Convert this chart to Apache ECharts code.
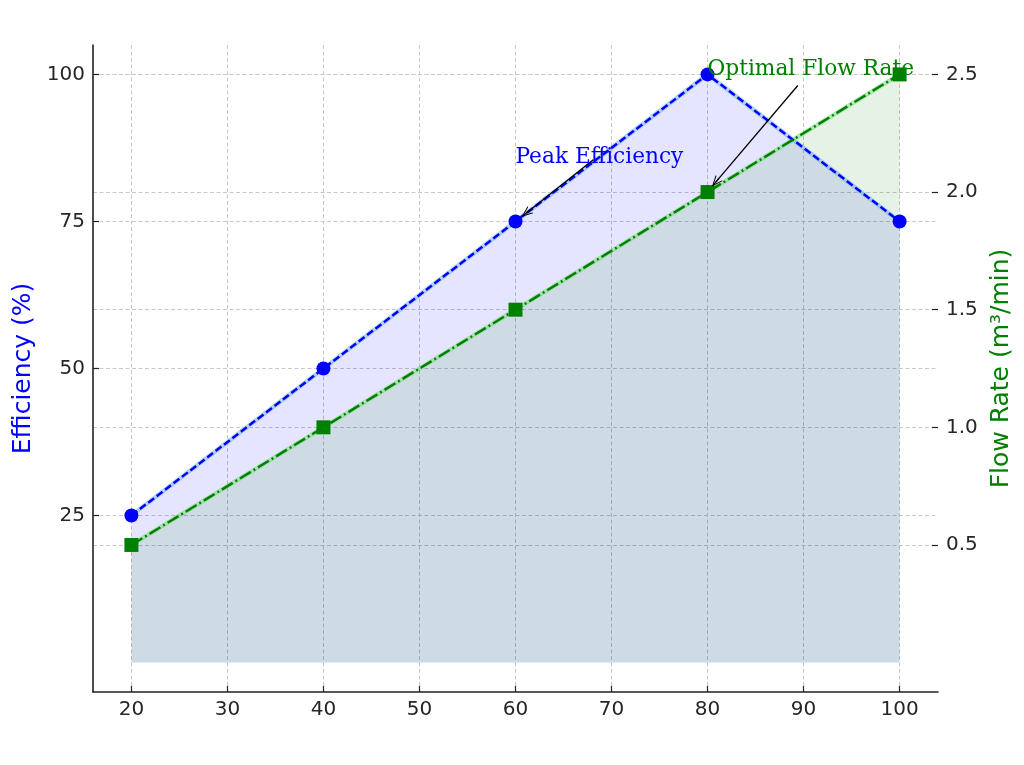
<!DOCTYPE html>
<html>
<head>
<meta charset="utf-8">
<title>Efficiency and Flow Rate</title>
<script src="https://cdn.jsdelivr.net/npm/echarts@6/dist/echarts.min.js"></script>
<style>
  html, body { margin: 0; padding: 0; background: #fff; }
  #chart { width: 1024px; height: 765px; }
</style>
</head>
<body>
<div id="chart"></div>
<script>
// data
const xValues = [20, 40, 60, 80, 100];
const efficiency = [25, 50, 75, 100, 75];      // %
const flowRate = [0.5, 1.0, 1.5, 2.0, 2.5];    // m³/min

const xTicks = [20, 30, 40, 50, 60, 70, 80, 90, 100];
const effTicks = [25, 50, 75, 100];
const flowTicks = [0.5, 1.0, 1.5, 2.0, 2.5];

// annotation anchors (data coords): text position, arrow tail, arrow end
const peakText = [60, 85];
const peakTail = [68.1, 85.5];
const peakHead = [61.1, 76.4];
const optText = [80, 2.5];
const optTail = [89.4, 2.453];
const optHead = [80.83, 2.041];

const chart = echarts.init(document.getElementById('chart'));

const tickFont = { fontFamily: 'DejaVu Sans', fontSize: 20, color: '#262626' };
const gridLine = { show: true, lineStyle: { color: '#c8c8c8', width: 1, type: [4, 2.5] } };
// open arrow head with a short stem, tip pointing up
const arrowHead = 'path://M5,0 L10,10 L8.8,10 L5.6,3.4 L5.6,10 L4.4,10 L4.4,3.4 L1.2,10 L0,10 Z';

const effData = xValues.map((x, i) => [x, efficiency[i]]);
const flowData = xValues.map((x, i) => [x, flowRate[i]]);

const option = {
    animation: false,
    grid: { left: 93, right: 86, top: 45, bottom: 73 },
    xAxis: {
        type: 'value',
        min: 16,
        max: 104,
        axisLine: { show: true, onZero: false, lineStyle: { color: '#222', width: 1.6 } },
        axisTick: { show: true, inside: true, length: 6, customValues: xTicks,
            lineStyle: { color: '#222', width: 1.2 } },
        axisLabel: Object.assign({ margin: 8, customValues: xTicks }, tickFont),
        splitLine: gridLine
    },
    yAxis: [{
        type: 'value',
        min: -5,
        max: 105,
        name: 'Efficiency (%)',
        nameLocation: 'middle',
        nameGap: 57,
        nameTextStyle: { color: '#0000ff', fontSize: 25, fontFamily: 'DejaVu Sans' },
        axisLine: { show: true, onZero: false, lineStyle: { color: '#222', width: 1.6 } },
        axisTick: { show: true, inside: true, length: 6, customValues: effTicks,
            lineStyle: { color: '#222', width: 1.2 } },
        axisLabel: Object.assign({ margin: 8, customValues: effTicks }, tickFont),
        splitLine: gridLine
    }, {
        type: 'value',
        position: 'right',
        min: -0.125,
        max: 2.625,
        name: 'Flow Rate (m³/min)',
        nameLocation: 'middle',
        nameGap: 47,
        nameTextStyle: { color: '#008000', fontSize: 25, fontFamily: 'DejaVu Sans' },
        axisLine: { show: false, onZero: false },
        axisTick: { show: true, inside: true, length: 6, customValues: flowTicks,
            lineStyle: { color: '#222', width: 1.2 } },
        axisLabel: Object.assign({ margin: 8, customValues: flowTicks,
            formatter: v => v.toFixed(1) }, tickFont),
        splitLine: gridLine
    }],
    series: [
        // filled areas with their soft edges
        {
            type: 'line',
            data: effData,
            yAxisIndex: 0,
            symbol: 'none',
            silent: true,
            z: 1,
            lineStyle: { color: 'rgba(120,180,230,0.55)', width: 4.5 },
            areaStyle: { color: 'rgba(0,0,255,0.1)', opacity: 1 }
        },
        {
            type: 'line',
            data: flowData,
            yAxisIndex: 1,
            symbol: 'none',
            silent: true,
            z: 1,
            lineStyle: { color: 'rgba(120,220,120,0.55)', width: 4.5 },
            areaStyle: { color: 'rgba(0,128,0,0.1)', opacity: 1 }
        },
        {
            name: 'Efficiency',
            type: 'line',
            data: effData,
            yAxisIndex: 0,
            z: 3,
            symbol: 'circle',
            symbolSize: 14,
            itemStyle: { color: '#0000ff' },
            lineStyle: { color: '#0000ff', width: 2.5, type: [7.4, 3.2] },
            markPoint: {
                silent: true,
                symbol: 'circle',
                symbolSize: 0,
                data: [{
                    coord: peakText,
                    label: {
                        show: true, formatter: 'Peak Efficiency', position: [0, 0],
                        align: 'left', verticalAlign: 'bottom', offset: [0, 6],
                        fontFamily: 'DejaVu Serif', fontSize: 21.7, color: '#0000ff'
                    }
                }]
            },
            markLine: {
                silent: true,
                symbol: ['none', arrowHead],
                symbolSize: [9, 11],
                label: { show: false },
                lineStyle: { color: '#000', width: 1.3, type: 'solid' },
                data: [[{ coord: peakTail }, { coord: peakHead }]]
            }
        },
        {
            name: 'Flow Rate',
            type: 'line',
            data: flowData,
            yAxisIndex: 1,
            z: 3,
            symbol: 'rect',
            symbolSize: 14,
            itemStyle: { color: '#008000' },
            lineStyle: { color: '#008000', width: 2.5, type: [12.8, 3.2, 2, 3.2] },
            markPoint: {
                silent: true,
                symbol: 'circle',
                symbolSize: 0,
                data: [{
                    coord: optText,
                    label: {
                        show: true, formatter: 'Optimal Flow Rate', position: [0, 0],
                        align: 'left', verticalAlign: 'bottom', offset: [0, 6],
                        fontFamily: 'DejaVu Serif', fontSize: 21.7, color: '#008000'
                    }
                }]
            },
            markLine: {
                silent: true,
                symbol: ['none', arrowHead],
                symbolSize: [9, 11],
                label: { show: false },
                lineStyle: { color: '#000', width: 1.3, type: 'solid' },
                data: [[{ coord: optTail }, { coord: optHead }]]
            }
        }
    ]
};

chart.setOption(option);
</script>
</body>
</html>
